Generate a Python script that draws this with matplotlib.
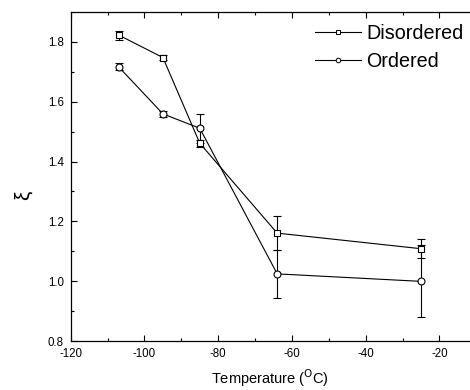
import matplotlib
matplotlib.use("Agg")
import matplotlib.pyplot as plt
from matplotlib.ticker import MultipleLocator, FormatStrFormatter
from matplotlib.lines import Line2D

plt.rcParams['font.family'] = ['Liberation Sans', 'DejaVu Sans']
plt.rcParams['axes.unicode_minus'] = False

temperature = [-107, -95, -85, -64, -25]
disordered = [1.822, 1.747, 1.461, 1.161, 1.109]
disordered_err = [0.015, 0.008, 0.012, 0.057, 0.031]
ordered = [1.716, 1.559, 1.511, 1.025, 1.000]
ordered_err = [0.012, 0.010, 0.048, 0.080, 0.120]

fig = plt.figure(figsize=(4.7, 3.9), dpi=100)
ax = fig.add_axes([0.1505, 0.1249, 0.8495, 0.8451])

ax.errorbar(temperature, disordered, yerr=disordered_err, color='black', lw=0.8,
            marker='s', ms=4.2, mfc='white', mec='black', mew=0.8,
            capsize=3, elinewidth=0.8, capthick=0.8, zorder=3)
ax.errorbar(temperature, ordered, yerr=ordered_err, color='black', lw=0.8,
            marker='o', ms=5, mfc='white', mec='black', mew=0.8,
            capsize=3, elinewidth=0.8, capthick=0.8, zorder=3)

ax.set_xlim(-120, -11.7)
ax.set_ylim(0.8, 1.9)
ax.xaxis.set_major_locator(MultipleLocator(20))
ax.xaxis.set_minor_locator(MultipleLocator(10))
ax.yaxis.set_major_locator(MultipleLocator(0.2))
ax.yaxis.set_minor_locator(MultipleLocator(0.1))
ax.yaxis.set_major_formatter(FormatStrFormatter('%.1f'))

ax.tick_params(which='both', direction='in', top=True, right=False, labelsize=8.3, width=0.8)
ax.tick_params(which='major', length=4.5)
ax.tick_params(which='minor', length=2.5)
ax.tick_params(axis='x', which='major', pad=5)
ax.tick_params(axis='y', which='major', pad=5)
for side in ['left', 'bottom', 'top']:
    ax.spines[side].set_linewidth(0.9)
ax.spines['right'].set_visible(False)

ax.set_xlabel('Temperature ($^{\\mathrm{O}}$C)', fontsize=10.5, labelpad=5)
fig.text(0.049, 0.5, 'ξ', rotation=90, ha='center', va='center', fontsize=15)

handles = [
    Line2D([], [], color='black', lw=0.8, marker='s', ms=3, mfc='white', mec='black', mew=0.7),
    Line2D([], [], color='black', lw=0.8, marker='o', ms=3.3, mfc='white', mec='black', mew=0.7),
]
ax.legend(handles, ['Disordered', 'Ordered'], loc='upper right', frameon=False,
          bbox_to_anchor=(1.014, 1.0),
          fontsize=14.2, handlelength=2.3, handletextpad=0.3, labelspacing=0.48,
          borderaxespad=0.0, borderpad=0.6)

fig.savefig('out.png', dpi=100)
